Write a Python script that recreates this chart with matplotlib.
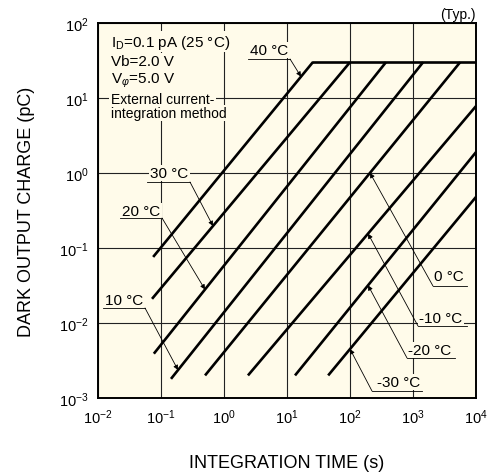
import numpy as np
import matplotlib
matplotlib.use('Agg')
import matplotlib.pyplot as plt

plt.rcParams['font.family'] = ['Liberation Sans', 'DejaVu Sans']
plt.rcParams['mathtext.fontset'] = 'custom'
plt.rcParams['mathtext.rm'] = 'Liberation Sans'
plt.rcParams['mathtext.it'] = 'Liberation Sans:italic'
plt.rcParams['mathtext.bf'] = 'Liberation Sans:bold'

# dark output charge vs integration time, one straight segment per temperature
temps = ['40 °C', '30 °C', '20 °C', '10 °C', '0 °C', '-10 °C', '-20 °C', '-30 °C']
t_start = [0.075, 0.072, 0.077, 0.144, 0.50, 2.4, 13.4, 45.0]
q_start = [0.076, 0.021, 0.0039, 0.0018, 0.002, 0.002, 0.002, 0.002]
t_end = [25.7, 100.0, 372.0, 1445.0, 5600.0, 1e4, 1e4, 1e4]
q_end = [30.0, 30.0, 30.0, 30.0, 30.0, 7.8, 1.9, 0.48]
q_sat = 30.0

# label layout (log10 coords): text centre, underline ends, arrow tip time
lab_text = [(0.714, 1.64), (-0.873, 0.0), (-1.317, -0.507), (-1.587, -1.693),
            (3.571, -1.373), (3.444, -1.933), (3.27, -2.36), (2.778, -2.787)]
lab_line = [(0.381, 1.048, 1.52), (-1.222, -0.54, -0.12), (-1.651, -0.984, -0.6),
            (-1.92, -1.254, -1.8), (3.317, 3.857, -1.507), (3.079, 3.857, -2.04),
            (2.905, 3.667, -2.467), (2.349, 3.143, -2.907)]
lab_tip = [1.222, -0.175, -0.302, -0.730, 2.317, 2.286, 2.286, 2.0]

bg = '#fffbea'
fig = plt.figure(figsize=(4.94, 4.77), dpi=100)
ax = fig.add_axes([0.1984, 0.1635, 0.7652, 0.7862])
ax.set_facecolor(bg)
ax.set_xscale('log')
ax.set_yscale('log')
ax.set_xlim(1e-2, 1e4)
ax.set_ylim(1e-3, 1e2)
ax.set_xticks([10.0**k for k in range(-2, 5)])
ax.set_yticks([10.0**k for k in range(-3, 3)])
ax.minorticks_off()
ax.tick_params(length=0, labelsize=10.5, pad=7)
ax.grid(True, color='#222222', lw=0.8, zorder=0)
ax.set_axisbelow(True)
for s in ax.spines.values():
    s.set_linewidth(1.4)

for i in range(len(temps)):
    ax.plot([t_start[i], t_end[i]], [q_start[i], q_end[i]], color='k', lw=1.9,
            solid_capstyle='butt', zorder=3)
ax.plot([t_end[0], 1e4], [q_sat, q_sat], color='k', lw=1.9, zorder=3)

for i, name in enumerate(temps):
    tx, ty = lab_text[i]
    x0, x1, yl = lab_line[i]
    ax.text(10**tx, 10**ty, name, ha='center', va='center', fontsize=11, zorder=5,
            bbox=dict(facecolor=bg, edgecolor='none', pad=1.0))
    ax.plot([10**x0, 10**x1], [10**yl, 10**yl], color='k', lw=0.6, zorder=6)
    # tip sits on the temperature line
    lt = lab_tip[i]
    f = (lt - np.log10(t_start[i])) / (np.log10(t_end[i]) - np.log10(t_start[i]))
    lq = np.log10(q_start[i]) + f * (np.log10(q_end[i]) - np.log10(q_start[i]))
    sx = x1 if i < 4 else x0
    ax.annotate('', xy=(10**lt, 10**lq), xytext=(10**sx, 10**yl), zorder=6,
                arrowprops=dict(arrowstyle='-|>', lw=0.6, color='k',
                                mutation_scale=7, shrinkA=0, shrinkB=0))

cond = [r'I$_{\rm D}$=0.1 pA (25 °C)', 'Vb=2.0 V', r'V$_{φ}$=5.0 V',
        'External current-', 'integration method']
cond_y = [0.95, 0.898, 0.848, 0.798, 0.76]
for k, s in enumerate(cond):
    ax.text(0.034, cond_y[k], s, transform=ax.transAxes, ha='left', va='center',
            fontsize=11 if k < 3 else 10, zorder=5,
            bbox=dict(facecolor=bg, edgecolor='none', pad=1.0))

fig.text(0.962, 0.968, '(Typ.)', ha='right', va='center', fontsize=10)
ax.set_xlabel('INTEGRATION TIME (s)', fontsize=13)
ax.set_ylabel('DARK OUTPUT CHARGE (pC)', fontsize=13)
ax.xaxis.set_label_coords(0.5, -0.148)
ax.yaxis.set_label_coords(-0.167, 0.5)

fig.savefig('out.png', dpi=100)
